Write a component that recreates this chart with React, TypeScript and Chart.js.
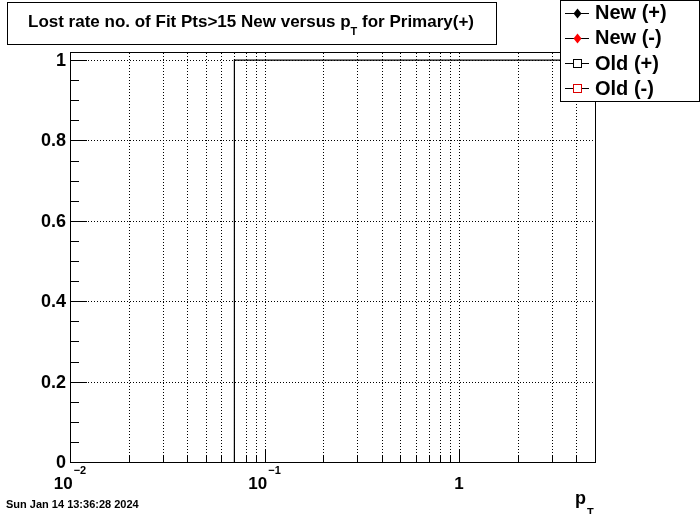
import React, { useEffect, useRef } from 'react';
import { Chart, registerables } from 'chart.js';

Chart.register(...registerables);

// ---- data ----
const stepX = [0.07, 0.07, 5];
const lostRate = [0, 1, 1];

// ---- axis ticks ----
const xMin = 0.01;
const xMax = 5;
const yMin = 0;
const yMax = 1.02;
const xMajorTicks = [0.01, 0.1, 1];
const xMajorBase = ['10', '10', '1'];
const xMajorExp = ['\u22122', '\u22121', ''];
const xMinorTicks = [0.02, 0.03, 0.04, 0.05, 0.06, 0.07, 0.08, 0.09, 0.2, 0.3, 0.4, 0.5, 0.6, 0.7, 0.8, 0.9, 2, 3, 4];
const yMajorTicks = [0, 0.2, 0.4, 0.6, 0.8, 1];
const yMajorLabels = ['0', '0.2', '0.4', '0.6', '0.8', '1'];
const yMinorTicks = [0.05, 0.1, 0.15, 0.25, 0.3, 0.35, 0.45, 0.5, 0.55, 0.65, 0.7, 0.75, 0.85, 0.9, 0.95];

// ---- texts ----
const titleMain = 'Lost rate no. of Fit Pts>15 New versus p';
const titleSub = 'T';
const titleEnd = ' for Primary(+)';
const xTitleMain = 'p';
const xTitleSub = 'T';
const dateText = 'Sun Jan 14 13:36:28 2024';
const legendLabels = ['New (+)', 'New (-)', 'Old (+)', 'Old (-)'];
const legendColors = ['#000000', '#ff0000', '#000000', '#dd0000'];
const legendMarkers = ['diamond', 'diamond', 'square', 'square'];

const FONT = '"Liberation Sans", Arial, Helvetica, sans-serif';

const rootPlugin = {
  id: 'rootStyle',
  beforeDatasetsDraw(chart: any) {
    const { ctx, chartArea: a, scales } = chart;
    const xs = scales.x;
    const ys = scales.y;
    ctx.save();
    ctx.strokeStyle = '#000';
    ctx.lineWidth = 1;
    ctx.setLineDash([1, 2]);
    [...xMinorTicks, ...xMajorTicks].forEach((v) => {
      const px = Math.round(xs.getPixelForValue(v)) + 0.5;
      if (px <= a.left + 1 || px >= a.right - 1) return;
      ctx.beginPath();
      ctx.moveTo(px, a.bottom);
      ctx.lineTo(px, a.top);
      ctx.stroke();
    });
    yMajorTicks.forEach((v) => {
      const py = Math.round(ys.getPixelForValue(v)) + 0.5;
      if (py >= a.bottom - 1 || py <= a.top + 1) return;
      ctx.beginPath();
      ctx.moveTo(a.left, py);
      ctx.lineTo(a.right, py);
      ctx.stroke();
    });
    ctx.restore();
  },
  afterDatasetsDraw(chart: any) {
    const { ctx, chartArea: a, scales } = chart;
    const xs = scales.x;
    const ys = scales.y;
    ctx.save();
    ctx.setLineDash([]);
    ctx.strokeStyle = '#000';
    ctx.lineWidth = 1;
    // frame
    ctx.strokeRect(Math.round(a.left) + 0.5, Math.round(a.top) + 0.5, Math.round(a.right - a.left), Math.round(a.bottom - a.top));
    // y ticks
    yMajorTicks.forEach((v) => {
      const py = Math.round(ys.getPixelForValue(v)) + 0.5;
      ctx.beginPath();
      ctx.moveTo(a.left, py);
      ctx.lineTo(a.left + 17, py);
      ctx.stroke();
    });
    yMinorTicks.forEach((v) => {
      const py = Math.round(ys.getPixelForValue(v)) + 0.5;
      ctx.beginPath();
      ctx.moveTo(a.left, py);
      ctx.lineTo(a.left + 9, py);
      ctx.stroke();
    });
    // x ticks
    xMajorTicks.forEach((v) => {
      const px = Math.round(xs.getPixelForValue(v)) + 0.5;
      ctx.beginPath();
      ctx.moveTo(px, a.bottom);
      ctx.lineTo(px, a.bottom - 12);
      ctx.stroke();
    });
    xMinorTicks.forEach((v) => {
      const px = Math.round(xs.getPixelForValue(v)) + 0.5;
      ctx.beginPath();
      ctx.moveTo(px, a.bottom);
      ctx.lineTo(px, a.bottom - 6);
      ctx.stroke();
    });

    ctx.fillStyle = '#000';
    // y labels
    ctx.font = `bold 18px ${FONT}`;
    ctx.textAlign = 'right';
    ctx.textBaseline = 'middle';
    yMajorTicks.forEach((v, i) => {
      const py = ys.getPixelForValue(v);
      ctx.fillText(yMajorLabels[i], a.left - 4, py + 1);
    });
    // x labels
    ctx.textBaseline = 'alphabetic';
    ctx.textAlign = 'left';
    xMajorTicks.forEach((v, i) => {
      const px = xs.getPixelForValue(v);
      ctx.font = `bold 17px ${FONT}`;
      const wb = ctx.measureText(xMajorBase[i]).width;
      ctx.font = `bold 11px ${FONT}`;
      const we = xMajorExp[i] ? ctx.measureText(xMajorExp[i]).width + 1 : 0;
      const start = px - (wb + we) / 2;
      ctx.font = `bold 17px ${FONT}`;
      ctx.fillText(xMajorBase[i], start, 489);
      if (xMajorExp[i]) {
        ctx.font = `bold 11px ${FONT}`;
        ctx.fillText(xMajorExp[i], start + wb + 1, 474);
      }
    });
    // x title
    ctx.font = `bold 18px ${FONT}`;
    ctx.fillText(xTitleMain, 575, 504);
    ctx.font = `bold 11px ${FONT}`;
    ctx.fillText(xTitleSub, 587, 516);
    // date
    ctx.font = `bold 11px ${FONT}`;
    ctx.fillText(dateText, 6, 508);

    // title box
    ctx.fillStyle = '#fff';
    ctx.fillRect(8, 3, 489, 42);
    ctx.strokeRect(7.5, 2.5, 489, 42);
    ctx.fillStyle = '#000';
    ctx.font = `bold 17px ${FONT}`;
    const w1 = ctx.measureText(titleMain).width;
    const w3 = ctx.measureText(titleEnd).width;
    ctx.font = `bold 11px ${FONT}`;
    const w2 = ctx.measureText(titleSub).width;
    const total = w1 + w2 + w3;
    const tx = 251 - total / 2;
    ctx.font = `bold 17px ${FONT}`;
    ctx.fillText(titleMain, tx, 27);
    ctx.font = `bold 11px ${FONT}`;
    ctx.fillText(titleSub, tx + w1, 35);
    ctx.font = `bold 17px ${FONT}`;
    ctx.fillText(titleEnd, tx + w1 + w2, 27);

    // legend
    ctx.fillStyle = '#fff';
    ctx.fillRect(561, 1, 139, 101);
    ctx.strokeStyle = '#000';
    ctx.strokeRect(560.5, 0.5, 139, 101);
    legendLabels.forEach((lab, i) => {
      const cy = 12.5 + i * 25.3;
      const yy = Math.round(cy) + 0.5;
      ctx.strokeStyle = '#000';
      ctx.lineWidth = 1;
      ctx.beginPath();
      ctx.moveTo(565, yy);
      ctx.lineTo(589, yy);
      ctx.stroke();
      const mx = 577.5;
      if (legendMarkers[i] === 'diamond') {
        ctx.fillStyle = legendColors[i];
        ctx.beginPath();
        ctx.moveTo(mx, yy - 5);
        ctx.lineTo(mx + 4, yy);
        ctx.lineTo(mx, yy + 5);
        ctx.lineTo(mx - 4, yy);
        ctx.closePath();
        ctx.fill();
      } else {
        ctx.fillStyle = '#fff';
        ctx.fillRect(mx - 4, yy - 4, 8, 8);
        ctx.strokeStyle = legendColors[i];
        ctx.strokeRect(mx - 4, yy - 4, 8, 8);
      }
      ctx.fillStyle = '#000';
      ctx.font = `bold 20px ${FONT}`;
      ctx.textAlign = 'left';
      ctx.textBaseline = 'middle';
      ctx.fillText(lab, 595, cy + 1);
    });
    ctx.restore();
  },
};

export default function App() {
  const canvasRef = useRef<HTMLCanvasElement | null>(null);
  useEffect(() => {
    const canvas = canvasRef.current;
    if (!canvas) return;
    const chart = new Chart(canvas, {
      type: 'line',
      data: {
        datasets: [
          {
            label: legendLabels[0],
            data: stepX.map((x, i) => ({ x, y: lostRate[i] })),
            borderColor: '#000',
            borderWidth: 1.2,
            pointRadius: 0,
            stepped: 'before',
            fill: false,
          },
        ],
      },
      options: {
        responsive: false,
        animation: false,
        events: [],
        layout: { padding: { left: 70, top: 52, right: 105, bottom: 52 } },
        plugins: { legend: { display: false }, tooltip: { enabled: false }, title: { display: false } },
        scales: {
          x: { type: 'logarithmic', min: xMin, max: xMax, display: false },
          y: { type: 'linear', min: yMin, max: yMax, display: false },
        },
      },
      plugins: [
        {
          id: 'whiteBg',
          beforeDraw(c: any) {
            const ctx = c.ctx;
            ctx.save();
            ctx.fillStyle = '#fff';
            ctx.fillRect(0, 0, c.width, c.height);
            ctx.restore();
          },
        },
        rootPlugin,
      ],
    });
    return () => chart.destroy();
  }, []);
  return (
    <div style={{ position: 'fixed', left: 0, top: 0, width: 700, height: 514, background: '#fff' }}>
      <canvas ref={canvasRef} width={700} height={514} style={{ display: 'block' }} />
    </div>
  );
}
